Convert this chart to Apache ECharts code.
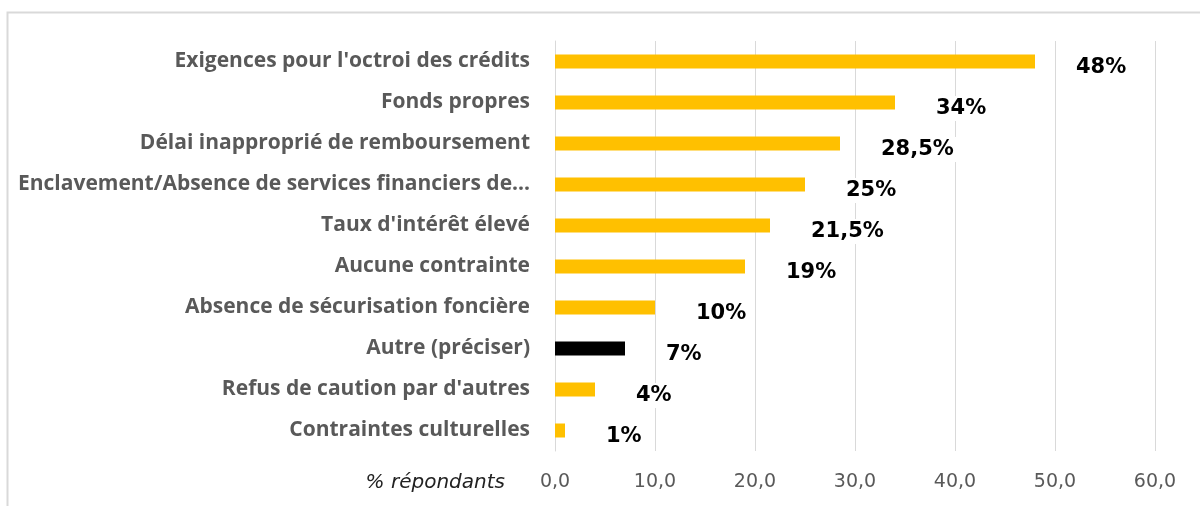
<!DOCTYPE html>
<html><head><meta charset="utf-8">
<script src="https://cdn.jsdelivr.net/npm/echarts@6/dist/echarts.min.js"></script>
<style>html,body{margin:0;padding:0;background:#fff}#c{width:1200px;height:506px}</style>
</head><body><div id="c"></div>
<script>
const categories = [
  "Exigences pour l'octroi des crédits",
  "Fonds propres",
  "Délai inapproprié de remboursement",
  "Enclavement/Absence de services financiers de...",
  "Taux d'intérêt élevé",
  "Aucune contrainte",
  "Absence de sécurisation foncière",
  "Autre (préciser)",
  "Refus de caution par d'autres",
  "Contraintes culturelles"
];
const values = [48, 34, 28.5, 25, 21.5, 19, 10, 7, 4, 1];
const valueLabels = ["48%", "34%", "28,5%", "25%", "21,5%", "19%", "10%", "7%", "4%", "1%"];
const barColors = ["#FFC000","#FFC000","#FFC000","#FFC000","#FFC000","#FFC000","#FFC000","#000000","#FFC000","#FFC000"];
const axisName = "% répondants";

const chart = echarts.init(document.getElementById('c'));
chart.setOption({
  backgroundColor: '#fff',
  animation: false,
  graphic: [{
    type: 'rect', shape: {x: 7.5, y: 12.5, width: 1300, height: 600},
    style: {fill: 'none', stroke: '#d9d9d9', lineWidth: 2}, silent: true, z: -10
  }],
  grid: {left: 555, right: 45, top: 41, bottom: 55},
  xAxis: {
    type: 'value', min: 0, max: 60, interval: 10,
    name: axisName, nameLocation: 'start', nameGap: 50,
    nameTextStyle: {fontFamily: 'DejaVu Sans', fontStyle: 'italic', fontSize: 20, color: '#222', verticalAlign: 'top', padding: [22, 0, 0, 0]},
    axisLine: {show: false}, axisTick: {show: false},
    axisLabel: {formatter: v => v.toFixed(1).replace('.', ','), fontFamily: 'DejaVu Sans', fontSize: 19, color: '#595959', margin: 22},
    splitLine: {show: true, lineStyle: {color: '#d9d9d9', width: 1}}
  },
  yAxis: {
    type: 'category', data: categories, inverse: true,
    axisLine: {show: true, lineStyle: {color: '#d9d9d9'}}, axisTick: {show: false},
    axisLabel: {fontFamily: 'Open Sans', fontWeight: 'bold', fontSize: 21, color: '#595959', margin: 25}
  },
  series: [{
    type: 'bar', barWidth: 14,
    data: values.map((v, i) => ({value: v, itemStyle: {color: barColors[i]}})),
    label: {
      show: true, position: 'right', distance: 0, offset: [37, 6],
      formatter: p => valueLabels[p.dataIndex],
      fontFamily: 'DejaVu Sans', fontWeight: 'bold', fontSize: 21, color: '#000',
      backgroundColor: '#fff', padding: [2, 4]
    }
  }]
});
</script></body></html>
